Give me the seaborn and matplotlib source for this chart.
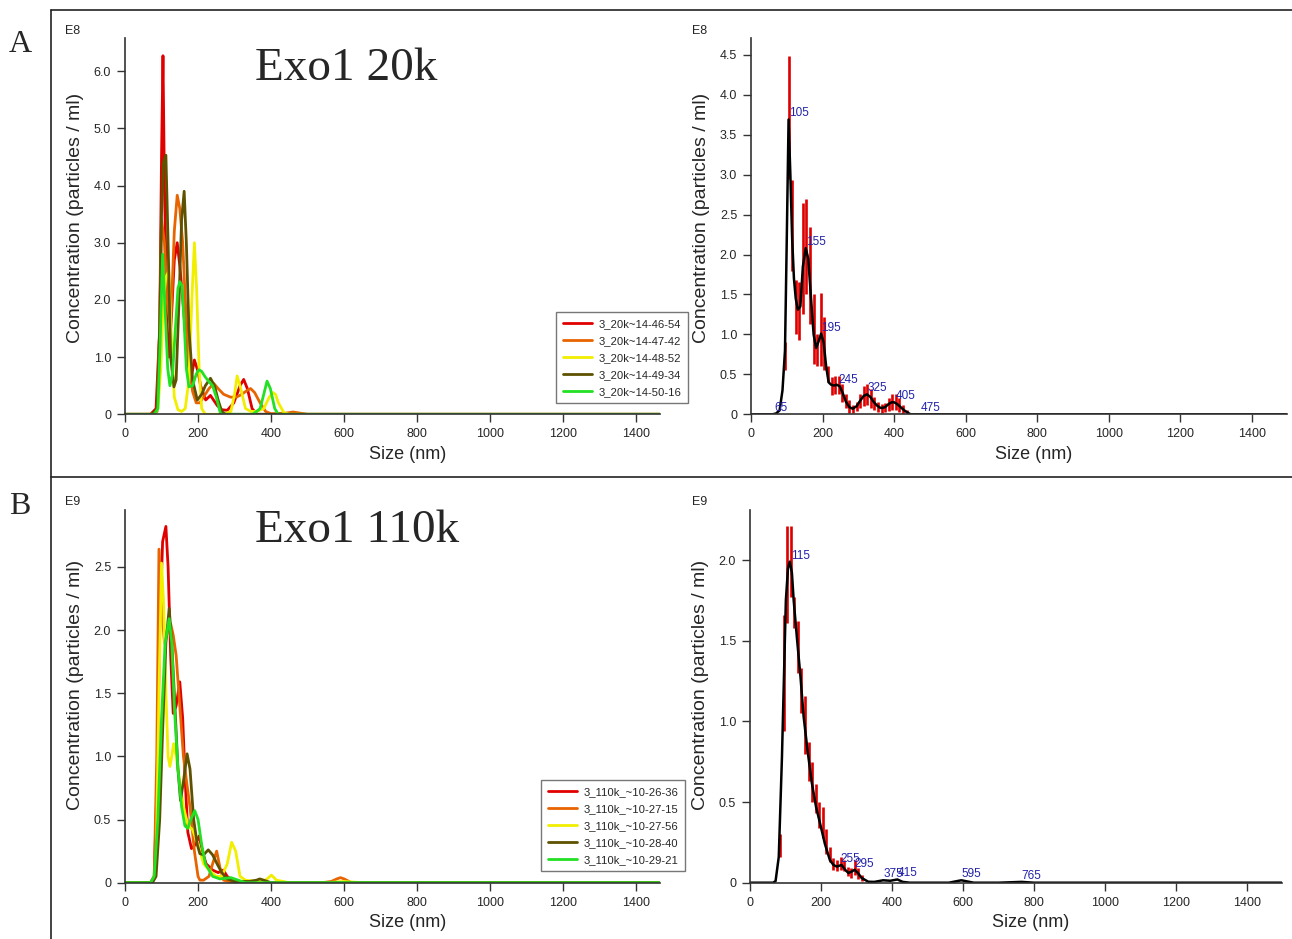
import numpy as np
import pandas as pd
import seaborn as sns
import matplotlib.pyplot as plt
from matplotlib.lines import Line2D
from matplotlib.ticker import FuncFormatter

# ---- panel A, left: five 20k runs (x = size nm, y = conc E8) ----
runs_20k = ['3_20k~14-46-54', '3_20k~14-47-42', '3_20k~14-48-52', '3_20k~14-49-34', '3_20k~14-50-16']

red_20k_x = [0, 70, 85, 95, 100, 104, 108, 115, 120, 128, 135, 143, 150, 161, 170, 180, 190, 200, 207, 221, 234, 253, 265, 280, 298, 315, 325, 335, 348, 362, 1480]
red_20k_y = [0, 0, 0.1, 1.5, 4.5, 6.27, 4.0, 1.6, 1.0, 1.8, 2.7, 3.0, 2.6, 1.8, 1.0, 0.6, 0.95, 0.75, 0.5, 0.25, 0.33, 0.15, 0.08, 0.07, 0.2, 0.5, 0.61, 0.45, 0.1, 0, 0]

orange_20k_x = [0, 75, 88, 95, 100, 108, 115, 125, 135, 143, 150, 158, 165, 175, 185, 195, 205, 215, 230, 243, 255, 270, 289, 305, 320, 335, 344, 355, 370, 385, 400, 440, 460, 480, 500, 1480]
orange_20k_y = [0, 0, 0.05, 1.5, 3.4, 3.0, 2.0, 1.5, 3.2, 3.83, 3.6, 3.0, 2.0, 0.9, 0.4, 0.2, 0.2, 0.3, 0.45, 0.54, 0.45, 0.35, 0.3, 0.3, 0.35, 0.42, 0.45, 0.38, 0.2, 0.05, 0.01, 0.02, 0.04, 0.02, 0, 0]

yellow_20k_x = [0, 80, 90, 98, 105, 112, 120, 128, 135, 145, 155, 165, 175, 183, 190, 196, 203, 210, 220, 250, 270, 290, 300, 307, 315, 330, 345, 360, 380, 395, 405, 412, 420, 435, 450, 1480]
yellow_20k_y = [0, 0, 0.1, 0.8, 2.0, 2.4, 2.5, 1.2, 0.3, 0.08, 0.05, 0.1, 0.6, 2.0, 3.0, 2.2, 0.8, 0.1, 0, 0, 0, 0.05, 0.35, 0.67, 0.5, 0.1, 0.05, 0.05, 0.1, 0.3, 0.38, 0.35, 0.2, 0.03, 0, 0]

olive_20k_x = [0, 75, 88, 95, 100, 105, 112, 118, 125, 134, 140, 148, 155, 162, 168, 175, 185, 198, 210, 220, 234, 245, 255, 265, 275, 1480]
olive_20k_y = [0, 0, 0.1, 1.5, 3.5, 4.4, 4.53, 3.0, 1.0, 0.48, 0.6, 2.0, 3.4, 3.9, 3.0, 1.5, 0.6, 0.25, 0.35, 0.5, 0.63, 0.5, 0.25, 0.05, 0, 0]

green_20k_x = [0, 80, 90, 96, 103, 110, 117, 123, 130, 138, 145, 150, 156, 162, 168, 175, 185, 195, 202, 210, 220, 230, 240, 250, 262, 300, 350, 370, 380, 389, 398, 410, 420, 1480]
green_20k_y = [0, 0, 0.1, 1.2, 2.8, 1.8, 0.8, 0.5, 0.7, 1.5, 2.2, 2.32, 2.25, 1.6, 0.8, 0.48, 0.5, 0.7, 0.78, 0.75, 0.65, 0.57, 0.5, 0.3, 0, 0, 0, 0.1, 0.35, 0.58, 0.45, 0.1, 0, 0]

# ---- panel B, left: five 110k runs (y = conc E9) ----
runs_110k = ['3_110k_~10-26-36', '3_110k_~10-27-15', '3_110k_~10-27-56', '3_110k_~10-28-40', '3_110k_~10-29-21']

red_110k_x = [0, 70, 80, 88, 95, 103, 112, 118, 125, 132, 140, 150, 158, 165, 172, 182, 192, 203, 212, 222, 240, 255, 269, 280, 300, 1500]
red_110k_y = [0, 0, 0.05, 0.8, 2.0, 2.7, 2.82, 2.5, 1.8, 1.34, 1.4, 1.59, 1.3, 0.8, 0.4, 0.27, 0.3, 0.37, 0.25, 0.15, 0.1, 0.08, 0.1, 0.05, 0, 0]

orange_110k_x = [0, 70, 80, 87, 93, 100, 108, 118, 125, 132, 140, 150, 160, 169, 178, 190, 200, 205, 215, 230, 240, 251, 260, 270, 300, 540, 565, 580, 590, 600, 620, 1500]
orange_110k_y = [0, 0, 0.05, 1.0, 2.64, 2.2, 1.9, 2.0, 2.05, 1.96, 1.8, 1.4, 1.0, 0.79, 0.6, 0.25, 0.05, 0.02, 0.02, 0.05, 0.15, 0.25, 0.12, 0.02, 0, 0, 0.01, 0.03, 0.04, 0.03, 0, 0]

yellow_110k_x = [0, 75, 85, 93, 100, 106, 112, 118, 123, 128, 133, 140, 150, 160, 173, 185, 200, 215, 230, 250, 265, 280, 292, 303, 315, 330, 360, 385, 401, 415, 450, 550, 600, 650, 1500]
yellow_110k_y = [0, 0, 0.1, 1.5, 2.53, 2.2, 1.5, 1.0, 0.92, 1.0, 1.1, 1.0, 0.8, 0.6, 0.45, 0.42, 0.3, 0.15, 0.1, 0.05, 0.05, 0.15, 0.32, 0.25, 0.05, 0.02, 0.01, 0.02, 0.06, 0.02, 0, 0, 0.01, 0, 0]

olive_110k_x = [0, 75, 85, 95, 103, 112, 121, 128, 135, 145, 152, 160, 170, 178, 188, 198, 205, 215, 228, 240, 252, 265, 280, 300, 340, 360, 369, 380, 400, 1500]
olive_110k_y = [0, 0, 0.05, 0.5, 1.2, 1.9, 2.17, 1.9, 1.5, 0.9, 0.65, 0.8, 1.02, 0.9, 0.5, 0.3, 0.23, 0.22, 0.26, 0.22, 0.15, 0.08, 0.03, 0.01, 0.01, 0.02, 0.03, 0.02, 0, 0]

green_110k_x = [0, 70, 80, 90, 100, 110, 121, 128, 135, 145, 155, 164, 172, 180, 191, 200, 210, 220, 240, 260, 290, 310, 330, 1500]
green_110k_y = [0, 0, 0.05, 0.5, 1.3, 1.9, 2.09, 1.9, 1.4, 0.9, 0.6, 0.45, 0.43, 0.5, 0.57, 0.5, 0.3, 0.15, 0.05, 0.03, 0.04, 0.02, 0, 0]

# ---- panel A, right: averaged 20k curve with error bars ----
avg_20k_x = [0, 60, 70, 80, 88, 95, 100, 105, 110, 115, 120, 125, 131, 138, 145, 153, 160, 167, 175, 182, 188, 196, 203, 210, 217, 224, 232, 240, 248, 256, 265, 275, 284, 295, 305, 315, 324, 333, 342, 352, 362, 367, 375, 385, 393, 400, 408, 418, 428, 438, 446, 460, 1500]
avg_20k_y = [0, 0, 0.01, 0.05, 0.3, 0.8, 2.2, 3.69, 3.0, 2.2, 1.7, 1.45, 1.31, 1.35, 1.85, 2.08, 1.95, 1.5, 1.0, 0.83, 0.9, 1.01, 0.9, 0.6, 0.4, 0.37, 0.36, 0.37, 0.35, 0.27, 0.16, 0.09, 0.07, 0.1, 0.17, 0.23, 0.25, 0.22, 0.16, 0.11, 0.08, 0.08, 0.09, 0.13, 0.15, 0.15, 0.13, 0.09, 0.05, 0.02, 0, 0, 0]
err_20k_x = [95, 105, 115, 125, 135, 145, 155, 165, 175, 185, 195, 205, 215, 225, 235, 245, 255, 265, 275, 285, 295, 305, 315, 325, 335, 345, 355, 365, 375, 385, 395, 405, 415, 425, 435]
err_20k_lo = [0.55, 2.95, 1.79, 1.01, 0.93, 1.25, 1.5, 1.13, 0.63, 0.6, 0.6, 0.55, 0.4, 0.24, 0.25, 0.25, 0.15, 0.08, 0.02, 0.02, 0.04, 0.08, 0.1, 0.12, 0.08, 0.05, 0.03, 0.02, 0.03, 0.04, 0.05, 0.05, 0.03, 0.0, 0.0]
err_20k_hi = [0.9, 4.49, 2.93, 1.68, 1.65, 2.65, 2.7, 2.34, 1.5, 1.0, 1.52, 1.22, 0.6, 0.47, 0.48, 0.48, 0.38, 0.25, 0.18, 0.12, 0.15, 0.25, 0.35, 0.38, 0.32, 0.22, 0.15, 0.13, 0.14, 0.2, 0.25, 0.25, 0.2, 0.12, 0.05]
peaks_20k = [65, 105, 155, 195, 245, 325, 405, 475]
peaks_20k_y = [0.0, 3.69, 2.08, 1.01, 0.36, 0.25, 0.15, 0.0]

# ---- panel B, right: averaged 110k curve with error bars ----
avg_110k_x = [0, 65, 72, 81, 90, 101, 107, 112, 118, 123, 132, 142, 151, 162, 174, 186, 197, 211, 225, 235, 244, 258, 268, 277, 287, 295, 304, 314, 333, 350, 375, 395, 415, 430, 450, 560, 595, 630, 700, 765, 800, 1500]
avg_110k_y = [0, 0, 0.01, 0.16, 0.78, 1.75, 1.95, 1.99, 1.92, 1.75, 1.52, 1.28, 1.03, 0.82, 0.62, 0.47, 0.37, 0.24, 0.14, 0.11, 0.10, 0.11, 0.08, 0.06, 0.07, 0.08, 0.06, 0.03, 0.006, 0.005, 0.015, 0.012, 0.02, 0.005, 0, 0, 0.015, 0, 0, 0.005, 0, 0]
err_110k_x = [85, 95, 105, 115, 125, 135, 145, 155, 165, 175, 185, 195, 205, 215, 225, 235, 245, 255, 265, 275, 285, 295, 305, 315]
err_110k_lo = [0.16, 0.94, 1.61, 1.77, 1.58, 1.30, 1.05, 0.80, 0.63, 0.50, 0.43, 0.34, 0.28, 0.18, 0.13, 0.08, 0.07, 0.08, 0.07, 0.04, 0.03, 0.05, 0.02, 0.01]
err_110k_hi = [0.30, 1.66, 2.21, 2.21, 1.77, 1.62, 1.33, 1.16, 0.87, 0.75, 0.61, 0.50, 0.47, 0.33, 0.22, 0.15, 0.14, 0.16, 0.14, 0.10, 0.09, 0.14, 0.09, 0.05]
peaks_110k = [115, 255, 295, 375, 415, 595, 765]
peaks_110k_y = [1.99, 0.11, 0.08, 0.015, 0.02, 0.015, 0.005]

run_colors = ['#e00000', '#e86400', '#f2ee00', '#5e5200', '#22e022']

W, H = 1292, 939
sns.set_style('ticks')
plt.rcParams['font.family'] = ['Liberation Sans', 'DejaVu Sans']

fig = plt.figure(figsize=(W / 100, H / 100), dpi=100)


def px_axes(left, right, top, bottom):
    return fig.add_axes([left / W, 1 - bottom / H, (right - left) / W, (bottom - top) / H])


def fmt(v, pos):
    return '0' if v == 0 else ('%.1f' % v)


def style(ax, xmax, ymax, yticks, ylab_y):
    ax.set_xlim(0, xmax)
    ax.set_ylim(0, ymax)
    ax.set_xticks([0, 200, 400, 600, 800, 1000, 1200, 1400])
    ax.set_yticks(yticks)
    ax.yaxis.set_major_formatter(FuncFormatter(fmt))
    ax.tick_params(direction='out', length=6, width=1, labelsize=9, color='#333333', pad=4)
    for s in ['top', 'right']:
        ax.spines[s].set_visible(False)
    for s in ['left', 'bottom']:
        ax.spines[s].set_color('#333333')
        ax.spines[s].set_linewidth(1.2)
    ax.set_xlabel('Size (nm)', fontsize=13)
    ax.xaxis.set_label_coords(0.528, -0.084)
    ax.set_ylabel('Concentration (particles / ml)', fontsize=14, labelpad=7)
    ax.yaxis.label.set_y(ylab_y)


def draw_runs(ax, names, xs, ys, legend_xy):
    for name, x, y, c in zip(names, xs, ys, run_colors):
        df = pd.DataFrame({'size': x, 'conc': y})
        sns.lineplot(data=df, x='size', y='conc', color=c, lw=2, label=name,
                     estimator=None, sort=False, ax=ax)
    ax.legend(loc='upper left', bbox_to_anchor=(legend_xy[0] / W, 1 - legend_xy[1] / H),
              bbox_transform=fig.transFigure, borderaxespad=0, fontsize=8.1, frameon=True,
              fancybox=False, edgecolor='#555555', handlelength=2.6, handletextpad=0.6,
              borderpad=0.6, labelspacing=0.62)


def draw_avg(ax, x, y, ex, lo, hi, peaks, peaks_y):
    ax.vlines(ex, lo, hi, color='#dd0000', lw=1.9)
    df = pd.DataFrame({'size': x, 'conc': y})
    sns.lineplot(data=df, x='size', y='conc', color='black', lw=1.8, estimator=None, sort=False, ax=ax)
    for p, py in zip(peaks, peaks_y):
        ax.text(p, py, str(p), color='#2222aa', fontsize=8.5, ha='left', va='bottom')


# panel A left
ax1 = px_axes(125, 660, 38, 414.3)
draw_runs(ax1, runs_20k,
          [red_20k_x, orange_20k_x, yellow_20k_x, olive_20k_x, green_20k_x],
          [red_20k_y, orange_20k_y, yellow_20k_y, olive_20k_y, green_20k_y], (556, 312))
style(ax1, 1465, 6.58, [0, 1, 2, 3, 4, 5, 6], 0.521)
ax1.text(0.243, 0.888, 'Exo1 20k', transform=ax1.transAxes, fontsize=34,
         family='Liberation Serif', ha='left', va='baseline')

# panel A right
ax2 = px_axes(751, 1287, 38, 414.3)
draw_avg(ax2, avg_20k_x, avg_20k_y, err_20k_x, err_20k_lo, err_20k_hi, peaks_20k, peaks_20k_y)
style(ax2, 1498, 4.71, [0, 0.5, 1, 1.5, 2, 2.5, 3, 3.5, 4, 4.5], 0.521)

# panel B left
ax3 = px_axes(125, 660, 510, 882.7)
draw_runs(ax3, runs_110k,
          [red_110k_x, orange_110k_x, yellow_110k_x, olive_110k_x, green_110k_x],
          [red_110k_y, orange_110k_y, yellow_110k_y, olive_110k_y, green_110k_y], (541, 780))
style(ax3, 1465, 2.95, [0, 0.5, 1, 1.5, 2, 2.5], 0.53)
ax3.text(0.243, 0.914, 'Exo1 110k', transform=ax3.transAxes, fontsize=34,
         family='Liberation Serif', ha='left', va='baseline')

# panel B right
ax4 = px_axes(750, 1282, 510, 882.7)
draw_avg(ax4, avg_110k_x, avg_110k_y, err_110k_x, err_110k_lo, err_110k_hi, peaks_110k, peaks_110k_y)
style(ax4, 1498, 2.31, [0, 0.5, 1, 1.5, 2], 0.53)

# exponent labels
for (x, y, s) in [(65, 31, 'E8'), (692, 31, 'E8'), (65, 502, 'E9'), (692, 502, 'E9')]:
    fig.text(x / W, 1 - y / H, s, fontsize=9, va='center', ha='left')

# panel letters and frame lines
fig.text(20 / W, 1 - 45 / H, 'A', fontsize=23, family='Liberation Serif', ha='center', va='center')
fig.text(20 / W, 1 - 507 / H, 'B', fontsize=23, family='Liberation Serif', ha='center', va='center')
fig.add_artist(Line2D([51 / W, 51 / W], [1 - 10 / H, 0], color='#222222', lw=1.2))
fig.add_artist(Line2D([51 / W, 1], [1 - 10 / H, 1 - 10 / H], color='#222222', lw=1.2))
fig.add_artist(Line2D([51 / W, 1], [1 - 477 / H, 1 - 477 / H], color='#222222', lw=1.2))

fig.savefig('out.png', dpi=100)
